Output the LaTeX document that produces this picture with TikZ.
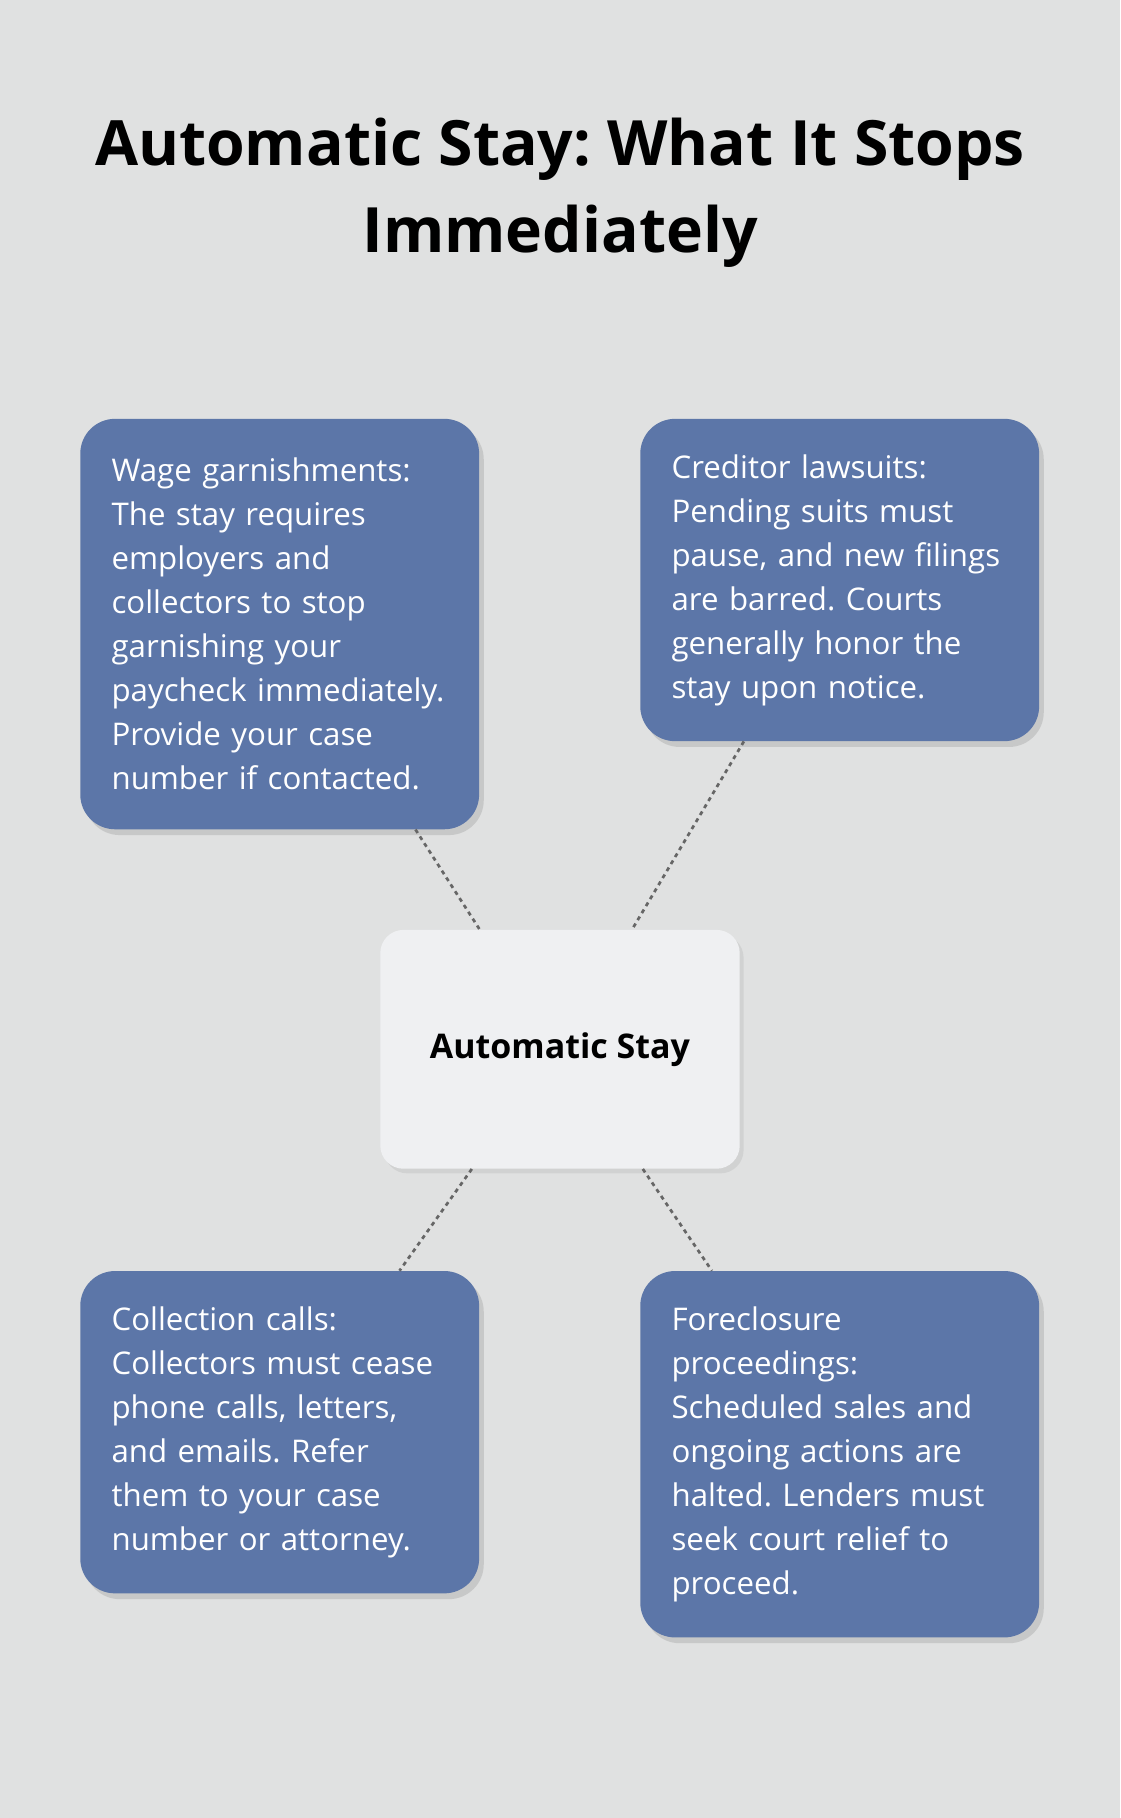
\documentclass[tikz,border=0pt]{standalone}
\usepackage{fontspec}
\setmainfont{Open Sans}
\frenchspacing
\usetikzlibrary{calc,shadows}
\definecolor{bg}{HTML}{E0E1E1}
\definecolor{card}{HTML}{5C76A8}
\definecolor{hub}{HTML}{EFF0F2}
\tikzset{
  card/.style={rectangle, rounded corners=0.9cm, fill=card, text=white, anchor=north west,
    text width=8.7cm, inner xsep=0.78cm, inner ysep=0.6cm, align=left,
    font=\fontsize{23}{32.4}\selectfont,
    drop shadow={opacity=0.25, shadow xshift=0.12cm, shadow yshift=-0.15cm}},
  link/.style={dash pattern=on 3pt off 3pt, line width=2pt, draw=black!60}
}
\begin{document}
\begin{tikzpicture}[x=0.03cm, y=-0.03cm]
	\fill[bg] (0,0) rectangle (966,1568);
	\useasboundingbox (0,0) rectangle (966,1568);

	\node[font=\fontsize{46}{64}\selectfont\bfseries, align=center] (title) at (483,166)
		{Automatic Stay: What It Stops\\Immediately};

	\node[card, minimum width=344*0.03cm, minimum height=354*0.03cm] (garnish) at (69,361)
		{Wage garnishments:\\The stay requires\\employers and\\collectors to stop\\garnishing your\\paycheck immediately.\\Provide your case\\number if contacted.};
	\node[card, minimum width=344*0.03cm, minimum height=278*0.03cm] (lawsuit) at (552,361)
		{Creditor lawsuits:\\Pending suits must\\pause, and new filings\\are barred. Courts\\generally honor the\\stay upon notice.};
	\node[card, minimum width=344*0.03cm, minimum height=278*0.03cm] (calls) at (69,1096)
		{Collection calls:\\Collectors must cease\\phone calls, letters,\\and emails. Refer\\them to your case\\number or attorney.};
	\node[card, minimum width=344*0.03cm, minimum height=316*0.03cm] (foreclose) at (552,1096)
		{Foreclosure\\proceedings:\\Scheduled sales and\\ongoing actions are\\halted. Lenders must\\seek court relief to\\proceed.};

	\node[rectangle, rounded corners=0.6cm, fill=hub, minimum width=310*0.03cm, minimum height=206*0.03cm,
		font=\fontsize{25}{30}\selectfont\bfseries,
		drop shadow={opacity=0.15, shadow xshift=0.1cm, shadow yshift=-0.12cm}] (stay) at (483,905) {Automatic Stay};

	\draw[link] ($(garnish.south west)!0.84!(garnish.south east)$) -- ($(stay.north west)!0.277!(stay.north east)$);
	\draw[link] ($(lawsuit.south west)!0.26!(lawsuit.south east)$) -- ($(stay.north west)!0.70!(stay.north east)$);
	\draw[link] ($(stay.south west)!0.255!(stay.south east)$) -- ($(calls.north west)!0.80!(calls.north east)$);
	\draw[link] ($(stay.south west)!0.73!(stay.south east)$) -- ($(foreclose.north west)!0.18!(foreclose.north east)$);
\end{tikzpicture}
\end{document}
